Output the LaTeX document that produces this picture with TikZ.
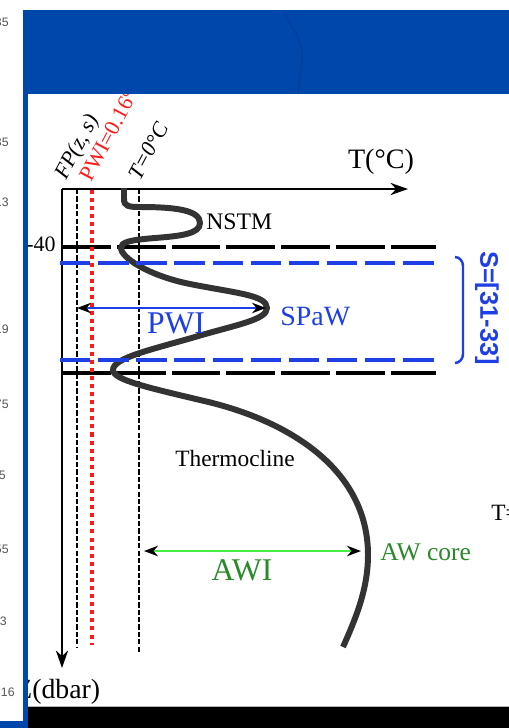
\documentclass[tikz,border=0pt]{standalone}
\usepackage{fontspec}
\setmainfont{Liberation Serif}
\setsansfont{Liberation Sans}
\usetikzlibrary{positioning,arrows.meta}
\definecolor{slideBlue}{HTML}{0047AB}
\definecolor{lineBlue}{HTML}{1F3FE6}
\definecolor{profGray}{HTML}{333333}
\definecolor{pwiRed}{HTML}{FF1A1A}
\definecolor{awLine}{HTML}{44EE44}
\definecolor{awText}{HTML}{2A8A2A}
\definecolor{marginGray}{HTML}{555555}

\begin{document}
\begin{tikzpicture}[x=0.02cm, y=0.02cm, font=\fontsize{13.3}{15}\selectfont,
      axisarrow/.style={-{Stealth[length=10pt, width=7pt]}, line width=0.85pt},
      thindash/.style={line width=0.6pt, dash pattern=on 3pt off 1.2pt},
      blackband/.style={line width=2.3pt, dash pattern=on 27.8pt off 3.4pt},
      blueband/.style={lineBlue, line width=2.3pt, dash pattern=on 17.3pt off 4.4pt},
      profile/.style={profGray, line width=3.4pt},
      widthbar/.style={{Stealth[length=8pt, width=6pt, color=black]}-{Stealth[length=8pt, width=6pt, color=black]}},
      rotlabel/.style={rotate=62, anchor=base west, inner sep=0pt, font=\fontsize{12.5}{14}\selectfont},
      marginnum/.style={anchor=east, inner sep=0pt, marginGray, font=\sffamily\fontsize{7}{8}\selectfont}]

    % page
    \useasboundingbox (0,0) rectangle (509,-728);
    \clip (0,0) rectangle (509,-728);
    \fill[white] (0,0) rectangle (509,-728);

    % axes
    \coordinate (origin) at (62,-189);
    \coordinate (tEnd) at (408,-189);
    \coordinate (zEnd) at (62,-668);
    \draw[thindash] (77,-189) -- (77,-648);
    \draw[thindash] (139,-189) -- (139,-653);
    \draw[axisarrow] (origin) -- (tEnd);
    \draw[axisarrow] (origin) -- (zEnd);
    \node[font=\fontsize{16}{18}\selectfont] (tLabel) at (381,-162) {T(°C)};
    \node[anchor=west, inner sep=0pt, font=\fontsize{15.8}{18}\selectfont] (zLabel) at (15,-692) {Z(dbar)};

    % layer limits
    \draw[blackband] (62,-247) -- (436,-247);
    \draw[blackband] (62,-373) -- (436,-373);
    \draw[pwiRed, line width=2.3pt, dash pattern=on 2.3pt off 2.3pt] (92,-190) -- (92,-645);

    % temperature profile
    \draw[profile] (124,-188) -- (124,-199)
      .. controls (124,-206) and (128,-207) .. (140,-207)
      .. controls (175,-207) and (200,-210) .. (200,-223)
      .. controls (200,-234) and (180,-236) .. (155,-238)
      .. controls (130,-240) and (121,-242) .. (121,-248)
      .. controls (121,-258) and (150,-276) .. (190,-284)
      .. controls (235,-293) and (267,-295) .. (267,-308)
      .. controls (267,-320) and (235,-325) .. (195,-337)
      .. controls (150,-350) and (113,-358) .. (113,-370)
      .. controls (113,-380) and (150,-388) .. (200,-400)
      .. controls (290,-420) and (368,-470) .. (368,-555)
      .. controls (368,-590) and (355,-620) .. (343,-647);

    \draw[blueband] (60,-263) -- (436,-263);
    \draw[blueband] (60,-360) -- (436,-360);
    \draw[lineBlue, line width=1.4pt] (455,-257) to[out=0,in=90] (463,-266) -- (463,-354) to[out=-90,in=0] (455,-363);
    \node[rotate=-90, lineBlue, font=\sffamily\bfseries\fontsize{14.5}{16}\selectfont] (salLabel) at (487,-308) {S=[31-33]};

    % heat content spans
    \coordinate (pwiL) at (77,-308);
    \coordinate (pwiR) at (266,-308);
    \draw[widthbar, lineBlue, line width=0.9pt] (pwiL) -- (pwiR);
    \node[lineBlue, font=\fontsize{18}{20}\selectfont] (pwiText) at (176,-323) {PWI};
    \coordinate (awiL) at (144,-551);
    \coordinate (awiR) at (361,-551);
    \draw[widthbar, awLine, line width=1.1pt] (awiL) -- (awiR);
    \node[awText, font=\fontsize{18}{20}\selectfont] (awiText) at (242,-570) {AWI};

    % labels
    \node[anchor=west, inner sep=0pt, font=\fontsize{13.5}{15}\selectfont] (nstm) at (206,-222) {NSTM};
    \node[anchor=west, inner sep=0pt, lineBlue, font=\fontsize{15.9}{18}\selectfont] (spaw) at (280,-316) {SPaW};
    \node[anchor=west, inner sep=0pt] (thermo) at (175,-458) {Thermocline};
    \node[anchor=west, inner sep=0pt, awText, font=\fontsize{14.5}{16}\selectfont] (awCore) at (380,-552) {AW core};
    \node[anchor=east, inner sep=0pt, font=\fontsize{12.5}{14}\selectfont] (depth40) at (56,-244) {-40};
    \node[anchor=west, inner sep=0pt] (tCut) at (491,-513) {T=};
    \node[rotlabel] (fpLabel) at (66,-181) {\itshape FP(z, s)};
    \node[rotlabel, pwiRed] (pwiLabel) at (91,-183) {PWI=0.16°C};
    \node[rotlabel] (zeroLabel) at (140,-182) {\itshape T=0°C};

    % slide frame
    \fill[slideBlue] (23,-10) rectangle (509,-94);
    \draw[slideBlue!85!black, line width=1pt, opacity=0.5] (284,-11) to[out=-70,in=90] (302,-55) to[out=-90,in=85] (298,-94);
    \fill[white] (0,0) rectangle (23,-721);
    \fill[slideBlue] (23,-10) rectangle (28,-721);
    \fill[slideBlue] (0,-721) rectangle (28,-728);
    \fill[black] (28,-707) rectangle (509,-728);
    \draw[gray!60, line width=0.5pt] (28,-706.5) -- (509,-706.5);
    \foreach \yy/\txt/\xx in {22/35/9, 142/35/9, 202/13/9, 329/19/9, 404/75/9, 475/5/6, 549/55/9, 621/3/7, 692/.16/15}
      \node[marginnum] (num\yy) at (\xx,-\yy) {\txt};
  \end{tikzpicture}
\end{document}
